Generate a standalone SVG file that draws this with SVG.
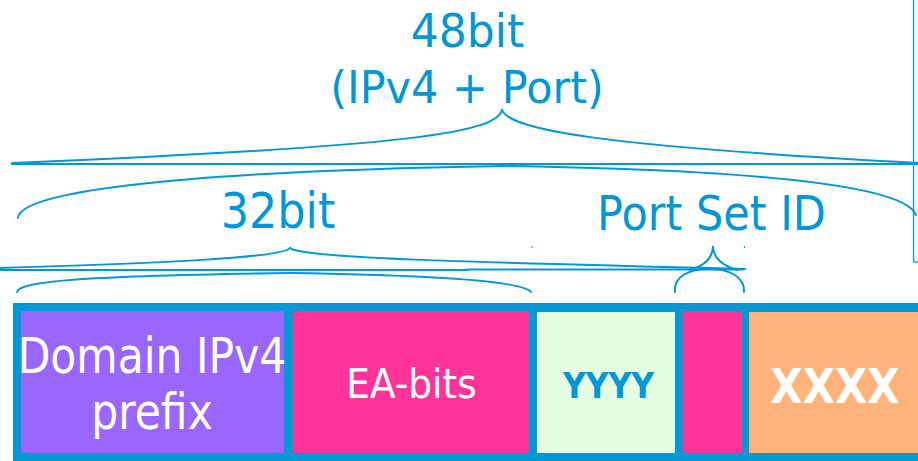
<svg xmlns="http://www.w3.org/2000/svg" width="918" height="461" viewBox="0 0 918 461">
  <style>
    .brace { fill: none; stroke: #0097d7; stroke-width: 2; stroke-linecap: round; }
    .lbl { font-family: "DejaVu Sans", sans-serif; fill: #0097d7; text-anchor: middle; }
    .cell-txt { font-family: "DejaVu Sans", sans-serif; fill: #ffffff; text-anchor: middle; }
    .bold { font-weight: bold; }
  </style>

  <rect width="918" height="461" fill="#ffffff"/>

  <!-- thin panel edge at the right -->
  <rect x="913.5" y="-2" width="6" height="264" fill="#eef5fb" stroke="#0097d7" stroke-width="1.2"/>

  <!-- brace labels -->
  <g id="label-48bit">
    <text class="lbl" font-size="44" transform="translate(467.5,47) scale(1,1.06)">48bit</text>
    <text class="lbl" font-size="43" transform="translate(467,103) scale(1,1.05)">(IPv4 + Port)</text>
  </g>
  <g id="label-32bit">
    <text class="lbl" font-size="44.5" transform="translate(278,228) scale(1,1.12)">32bit</text>
  </g>
  <g id="label-psid">
    <text class="lbl" font-size="43" transform="translate(711.5,230) scale(1,1.12)">Port Set ID</text>
  </g>

  <!-- braces -->
  <g id="connectors">
    <!-- 48bit brace -->
    <path class="brace" d="M502,110 C496,132 420,146 12,163"/>
    <path class="brace" d="M502,110 C510,130 600,146 918,163"/>
    <path class="brace" d="M12,164 L918,164"/>
    <path class="brace" d="M18,218 C20,194 150,172 502,166"/>
    <path class="brace" d="M502,166 C760,170 905,186 916,215"/>

    <!-- 32bit brace -->
    <path class="brace" d="M290,248 C282,258 160,263 0,268"/>
    <path class="brace" d="M290,248 C300,258 460,262 745,269"/>
    <path class="brace" stroke-width="2.6" d="M0,270 L467,270"/>
    <path class="brace" d="M467,269.5 L743,269.5"/>
    <path class="brace" d="M17,292 C20,282 70,276 290,273"/>
    <path class="brace" d="M290,273 C420,275 522,280 531,292"/>

    <!-- Port Set ID brace -->
    <path class="brace" d="M690,270 C706,265 712,258 713,247"/>
    <path class="brace" d="M737,270 C721,265 714,258 713,247"/>
    <path class="brace" d="M675,292 C673,276 690,269 709,269 C728,269 745,276 744,292"/>

    <!-- stray tick marks -->
    <path d="M532,246 L532,248" stroke="#0097d7" stroke-width="1"/>
    <path d="M744.5,246 L744.5,248" stroke="#0097d7" stroke-width="1"/>
  </g>

  <!-- address bar frame -->
  <rect id="frame" x="13" y="303" width="910" height="160" fill="#0099d6"/>

  <g id="cell-domain">
    <rect x="21" y="311" width="263" height="142" fill="#9966ff"/>
    <text class="cell-txt" font-size="42.5" transform="translate(152,373) scale(1,1.15)">Domain IPv4</text>
    <text class="cell-txt" font-size="42.5" transform="translate(152,429) scale(1,1.15)">prefix</text>
  </g>

  <g id="cell-ea">
    <rect x="293" y="311" width="236" height="142" fill="#ff3399"/>
    <text class="cell-txt" font-size="37.5" transform="translate(411.5,398) scale(1,1.1)">EA-bits</text>
  </g>

  <g id="cell-yyyy">
    <rect x="537" y="312" width="138" height="141" fill="#e4fce0"/>
    <text class="lbl bold" font-size="31.5" transform="translate(608.5,398) scale(1,1.15)">YYYY</text>
  </g>

  <g id="cell-psid">
    <rect x="683" y="311" width="59" height="142" fill="#ff3399"/>
  </g>

  <g id="cell-xxxx">
    <rect x="749" y="312" width="170" height="141" fill="#ffb27a"/>
    <text class="cell-txt bold" font-size="42" transform="translate(835,403) scale(1,1.14)">XXXX</text>
  </g>
</svg>
